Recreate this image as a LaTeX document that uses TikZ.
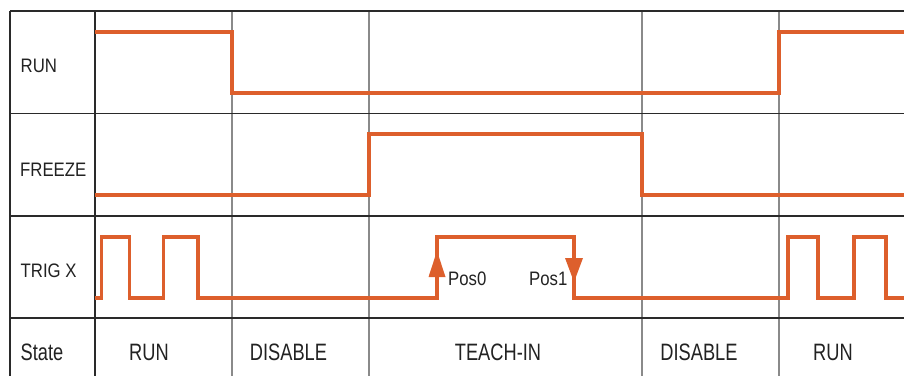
\documentclass[tikz,border=0pt]{standalone}
\usepackage{fontspec}
\setmainfont{Liberation Sans}
\newfontfamily\labfont[FakeStretch=0.86]{Liberation Sans}
\newfontfamily\statefont[FakeStretch=0.77]{Liberation Sans}
\definecolor{sig}{HTML}{DD5F2C}
\definecolor{gridd}{HTML}{2A2A2A}
\definecolor{gridl}{HTML}{8A8A8A}
\definecolor{txt}{HTML}{222222}
\tikzset{
  frame/.style={draw=gridd, line width=1.6pt},
  sep/.style={draw=gridl, line width=1.1pt},
  signal/.style={draw=sig, line width=3.4pt, line join=miter, line cap=butt},
  arrowhead/.style={fill=sig, draw=none},
  rowlabel/.style={anchor=base west, inner sep=0pt, text=txt, font=\labfont\fontsize{19.5}{20}\selectfont},
  poslabel/.style={anchor=base west, inner sep=0pt, text=txt, font=\labfont\fontsize{19.5}{20}\selectfont},
  statelabel/.style={anchor=base, inner sep=0pt, text=txt, font=\statefont\fontsize{23.7}{24}\selectfont}
}
\begin{document}
\begin{tikzpicture}[x=1pt, y=-1pt]
\useasboundingbox (0,0) rectangle (904,376);
% separators
\foreach \xx in {232,369,642,779} \draw[sep] (\xx,11) -- (\xx,376);
% frame
\foreach \yy in {11,113.5,216,318} \draw[frame] (10,\yy) -- (904,\yy);
\draw[frame] (10,11) -- (10,376);
\draw[frame] (95,11) -- (95,376);
% signals
\draw[signal] (95,32) -- (232,32) -- (232,93) -- (779,93) -- (779,32) -- (904,32);
\draw[signal] (95,195) -- (369,195) -- (369,134) -- (642,134) -- (642,195) -- (904,195);
\draw[signal] (95,298) -- (101.5,298) -- (101.5,237) -- (129.5,237) -- (129.5,298) -- (163.5,298) -- (163.5,237) -- (198,237) -- (198,298)
  -- (437,298) -- (437,237) -- (574,237) -- (574,298) -- (788,298) -- (788,237) -- (818,237) -- (818,298)
  -- (854,298) -- (854,237) -- (886,237) -- (886,298) -- (904,298);
% arrowheads
\fill[arrowhead] (437,251) -- (445.5,277) -- (428.5,277) -- cycle;
\fill[arrowhead] (574,282) -- (565,258) -- (583,258) -- cycle;
% labels
\node[rowlabel] (lrun) at (20.5,72.7) {RUN};
\node[rowlabel] (lfreeze) at (20,176) {FREEZE};
\node[rowlabel] (ltrig) at (20.5,277.3) {TRIG X};
\node[statelabel, anchor=base west] (lstate) at (20.5,360.7) {State};
\node[poslabel] (pos0) at (448,285) {Pos0};
\node[poslabel] (pos1) at (529,285) {Pos1};
% states
\node[statelabel] (s1) at (149,360.7) {RUN};
\node[statelabel] (s2) at (288.5,360.7) {DISABLE};
\node[statelabel] (s3) at (498,360.7) {TEACH-IN};
\node[statelabel] (s4) at (699,360.7) {DISABLE};
\node[statelabel] (s5) at (833,360.7) {RUN};
\end{tikzpicture}
\end{document}
